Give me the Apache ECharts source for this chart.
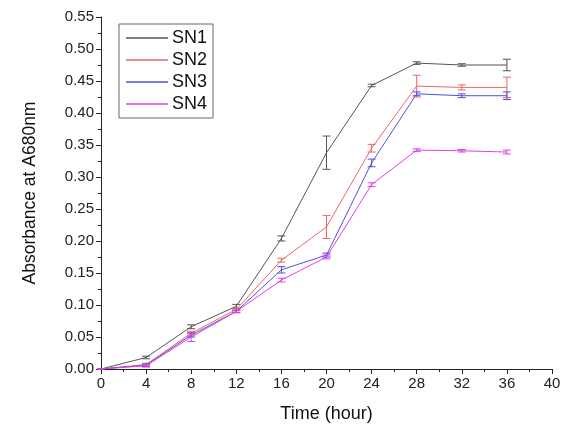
<!DOCTYPE html>
<html>
<head>
<meta charset="utf-8">
<script src="https://cdn.jsdelivr.net/npm/echarts@6/dist/echarts.min.js"></script>
<style>
  html, body { margin: 0; padding: 0; background: #fff; }
  #chart { width: 565px; height: 428px; }
</style>
</head>
<body>
<div id="chart"></div>
<script>
// time points (hour)
var hours = [0, 4, 8, 12, 16, 20, 24, 28, 32, 36];

// mean absorbance per strain
var sn1 = [0, 0.018, 0.066, 0.098, 0.204, 0.338, 0.443, 0.478, 0.475, 0.475];
var sn2 = [0, 0.007, 0.056, 0.093, 0.170, 0.222, 0.345, 0.442, 0.440, 0.440];
var sn3 = [0, 0.006, 0.053, 0.090, 0.155, 0.178, 0.322, 0.430, 0.427, 0.427];
var sn4 = [0, 0.005, 0.050, 0.090, 0.139, 0.175, 0.288, 0.342, 0.341, 0.339];

// error (half width of bar)
var sn1Err = [0, 0.002, 0.003, 0.003, 0.004, 0.026, 0.002, 0.002, 0.002, 0.009];
var sn2Err = [0, 0.002, 0.003, 0.002, 0.003, 0.018, 0.006, 0.017, 0.004, 0.016];
var sn3Err = [0, 0.002, 0.003, 0.002, 0.005, 0.003, 0.006, 0.003, 0.003, 0.006];
var sn4Err = [0, 0.002, 0.007, 0.002, 0.003, 0.003, 0.003, 0.002, 0.002, 0.003];

var names = ['SN1', 'SN2', 'SN3', 'SN4'];
var colors = ['#555555', '#ee6666', '#5050dd', '#e040e8'];
var means = [sn1, sn2, sn3, sn4];
var errs = [sn1Err, sn2Err, sn3Err, sn4Err];

var chart = echarts.init(document.getElementById('chart'));

var series = [];
means.forEach(function (vals, i) {
  series.push({
    name: names[i],
    type: 'line',
    data: hours.map(function (h, k) { return [h, vals[k]]; }),
    showSymbol: false,
    lineStyle: { color: colors[i], width: 1 },
    itemStyle: { color: colors[i] },
    z: 3
  });
  // error bars
  series.push({
    name: names[i],
    type: 'custom',
    data: hours.map(function (h, k) { return [h, vals[k] - errs[i][k], vals[k] + errs[i][k]]; }),
    renderItem: function (params, api) {
      var lo = api.coord([api.value(0), api.value(1)]);
      var hi = api.coord([api.value(0), api.value(2)]);
      var w = 4;
      var st = { stroke: colors[i], lineWidth: 1 };
      return {
        type: 'group',
        children: [
          { type: 'line', shape: { x1: lo[0], y1: lo[1], x2: hi[0], y2: hi[1] }, style: st },
          { type: 'line', shape: { x1: lo[0] - w, y1: lo[1], x2: lo[0] + w, y2: lo[1] }, style: st },
          { type: 'line', shape: { x1: hi[0] - w, y1: hi[1], x2: hi[0] + w, y2: hi[1] }, style: st }
        ]
      };
    },
    encode: { x: 0, y: [1, 2] },
    z: 4
  });
});

chart.setOption({
  animation: false,
  textStyle: { fontFamily: 'Liberation Sans, Arial, sans-serif' },
  grid: { left: 101, right: 13, top: 17, bottom: 59 },
  legend: {
    data: names.map(function (n, i) { return { name: n, icon: 'rect', itemStyle: { color: colors[i] } }; }),
    orient: 'vertical',
    left: 119,
    top: 24,
    itemWidth: 42,
    itemHeight: 1.5,
    itemGap: 4,
    padding: [5, 6, 5, 7],
    borderColor: '#666',
    borderWidth: 1,
    textStyle: { fontSize: 18, color: '#111', padding: [0, 0, 0, -1] }
  },
  xAxis: {
    type: 'value',
    min: 0, max: 40, interval: 4,
    name: 'Time (hour)',
    nameLocation: 'middle',
    nameGap: 36,
    nameTextStyle: { fontSize: 18, color: '#111' },
    axisLine: { lineStyle: { color: '#222', width: 1 } },
    axisTick: { length: 5, lineStyle: { color: '#222' } },
    minorTick: { show: true, splitNumber: 2, length: 3, lineStyle: { color: '#222' } },
    axisLabel: { fontSize: 15, color: '#222', margin: 7 },
    splitLine: { show: false }
  },
  yAxis: {
    type: 'value',
    min: 0, max: 0.55, interval: 0.05,
    name: 'Absorbance at A680nm',
    nameLocation: 'middle',
    nameGap: 62,
    nameTextStyle: { fontSize: 17.5, color: '#111' },
    axisLine: { show: true, lineStyle: { color: '#222', width: 1 } },
    axisTick: { show: true, length: 5, lineStyle: { color: '#222' } },
    minorTick: { show: true, splitNumber: 2, length: 3, lineStyle: { color: '#222' } },
    axisLabel: { fontSize: 15, color: '#222', margin: 7, formatter: function (v) { return v.toFixed(2); } },
    splitLine: { show: false }
  },
  series: series
});
</script>
</body>
</html>
